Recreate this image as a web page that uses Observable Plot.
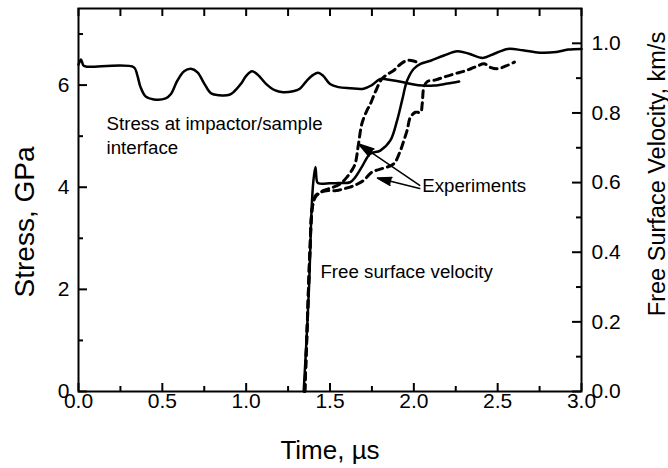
<!DOCTYPE html>
<html>
<head>
<meta charset="utf-8">
<script src="https://cdn.jsdelivr.net/npm/d3@7"></script>
<script src="https://cdn.jsdelivr.net/npm/@observablehq/plot@0.6"></script>
<style>
  html, body { margin: 0; padding: 0; background: #fff; }
  #chart svg { display: block; }
</style>
</head>
<body>
<div id="chart"></div>
<script>
// ---- Stress at impactor/sample interface (time µs, stress GPa)
const stressTime = [0, 0.015, 0.03, 0.05, 0.33, 0.35, 0.37, 0.40, 0.45, 0.52, 0.55, 0.59, 0.63, 0.67, 0.71, 0.75, 0.79, 0.84, 0.90, 0.93, 0.97, 1.0, 1.035, 1.07, 1.12, 1.17, 1.22, 1.28, 1.32, 1.36, 1.40, 1.43, 1.46, 1.50, 1.55, 1.62, 1.70, 1.75, 1.80, 1.86, 1.93, 2.0, 2.05, 2.12, 2.20, 2.27];
const stressValues = [6.4, 6.5, 6.38, 6.36, 6.35, 6.2, 5.96, 5.78, 5.72, 5.74, 5.82, 6.09, 6.27, 6.32, 6.25, 6.03, 5.84, 5.80, 5.81, 5.88, 6.03, 6.18, 6.27, 6.2, 6.02, 5.9, 5.86, 5.88, 5.93, 6.08, 6.2, 6.24, 6.18, 6.02, 5.96, 5.94, 5.93, 6.0, 6.12, 6.1, 6.06, 6.01, 5.99, 5.99, 6.03, 6.07];

// ---- Free surface velocity, simulation (time µs, velocity km/s)
const simTime = [1.343, 1.36, 1.375, 1.39, 1.40, 1.413, 1.425, 1.44, 1.50, 1.55, 1.62, 1.65, 1.69, 1.74, 1.80, 1.86, 1.90, 1.93, 1.96, 2.0, 2.04, 2.10, 2.18, 2.26, 2.33, 2.41, 2.48, 2.56, 2.65, 2.75, 2.85, 2.92, 3.0];
const simVelocity = [0, 0.15, 0.3, 0.52, 0.6, 0.645, 0.60, 0.597, 0.598, 0.599, 0.601, 0.615, 0.645, 0.683, 0.692, 0.721, 0.778, 0.836, 0.893, 0.927, 0.941, 0.95, 0.965, 0.977, 0.97, 0.958, 0.97, 0.984, 0.98, 0.973, 0.975, 0.982, 0.984];

// ---- Experiment 1 (earlier rise)
const exp1Time = [1.35, 1.365, 1.38, 1.395, 1.413, 1.46, 1.51, 1.56, 1.60, 1.63, 1.65, 1.67, 1.69, 1.72, 1.74, 1.77, 1.81, 1.85, 1.88, 1.92, 1.96, 1.99, 2.02];
const exp1Velocity = [0, 0.2, 0.4, 0.53, 0.558, 0.577, 0.585, 0.596, 0.615, 0.635, 0.654, 0.711, 0.769, 0.807, 0.825, 0.860, 0.898, 0.913, 0.922, 0.94, 0.951, 0.95, 0.946];

// ---- Experiment 2 (later rise)
const exp2Time = [1.35, 1.365, 1.38, 1.395, 1.41, 1.443, 1.49, 1.54, 1.58, 1.62, 1.66, 1.70, 1.75, 1.81, 1.88, 1.92, 1.94, 1.96, 1.98, 2.01, 2.04, 2.05, 2.06, 2.08, 2.13, 2.18, 2.24, 2.30, 2.34, 2.38, 2.42, 2.46, 2.50, 2.55, 2.60];
const exp2Velocity = [0, 0.2, 0.4, 0.53, 0.56, 0.572, 0.577, 0.577, 0.582, 0.587, 0.595, 0.606, 0.63, 0.64, 0.654, 0.692, 0.72, 0.75, 0.788, 0.802, 0.802, 0.826, 0.874, 0.89, 0.895, 0.903, 0.912, 0.92, 0.927, 0.935, 0.941, 0.93, 0.927, 0.935, 0.946];

// ---- Axes
const timeTicks = [0, 0.5, 1.0, 1.5, 2.0, 2.5, 3.0];
const timeMinorTicks = [0.25, 0.75, 1.25, 1.75, 2.25, 2.75];
const stressTicks = [0, 2, 4, 6];
const stressMinorTicks = [1, 3, 5, 7];
const velocityTicks = [0, 0.2, 0.4, 0.6, 0.8, 1.0];
const velocityMinorTicks = [0.1, 0.3, 0.5, 0.7, 0.9];
const stressDomain = [0, 7.5];
const velocityDomain = [0, 1.1];
const timeDomain = [0, 3];
const xTitle = "Time, \u00b5s";
const yTitle = "Stress, GPa";
const y2Title = "Free Surface Velocity, km/s";

// ---- Annotations (data coordinates: time µs, velocity km/s or stress GPa)
const stressLabel = {text: "Stress at impactor/sample\ninterface", t: 0.167, s: 5.45};
const velocityLabel = {text: "Free surface velocity", t: 1.443, v: 0.327};
const expLabel = {text: "Experiments", t: 2.05, v: 0.572};
const arrowStartT = [2.035, 2.035];
const arrowStartV = [0.592, 0.583];
const arrowEndT = [1.671, 1.783];
const arrowEndV = [0.711, 0.613];

// ---- Build
const K = stressDomain[1] / velocityDomain[1]; // velocity -> stress units
const W = 668, H = 468, mL = 78, mR = 87, mT = 8, mB = 77;
const PW = W - mL - mR, PH = H - mT - mB;

const stress = stressTime.map((t, i) => ({t, y: stressValues[i]}));
const sim = simTime.map((t, i) => ({t, y: simVelocity[i] * K}));
const exp1 = exp1Time.map((t, i) => ({t, y: exp1Velocity[i] * K}));
const exp2 = exp2Time.map((t, i) => ({t, y: exp2Velocity[i] * K}));
const arrows = arrowStartT.map((t, i) => ({x1: t, y1: arrowStartV[i] * K, x2: arrowEndT[i], y2: arrowEndV[i] * K}));
const allQuarter = [...timeTicks, ...timeMinorTicks];

const tickFont = 21;
const plot = Plot.plot({
  width: W, height: H,
  marginLeft: mL, marginRight: mR, marginTop: mT, marginBottom: mB,
  x: {domain: timeDomain, axis: null},
  y: {domain: stressDomain, axis: null},
  style: {fontFamily: "'Liberation Sans', Arial, sans-serif", fontSize: "18.7px", color: "black", background: "white"},
  marks: [
    // ticks (inward)
    Plot.tickX(timeTicks, {x: d => d, insetTop: PH - 8, strokeWidth: 2}),
    Plot.tickX(timeMinorTicks, {x: d => d, insetTop: PH - 5, strokeWidth: 2}),
    Plot.tickX(allQuarter, {x: d => d, insetBottom: PH - 8, strokeWidth: 2}),
    Plot.tickY(stressTicks, {y: d => d, insetRight: PW - 9, strokeWidth: 2}),
    Plot.tickY(stressMinorTicks, {y: d => d, insetRight: PW - 5, strokeWidth: 2}),
    Plot.tickY(velocityTicks, {y: d => d * K, insetLeft: PW - 9, strokeWidth: 2}),
    Plot.tickY(velocityMinorTicks, {y: d => d * K, insetLeft: PW - 5, strokeWidth: 2}),
    Plot.frame({strokeWidth: 2}),
    // tick labels
    Plot.text(timeTicks, {x: d => d, y: stressDomain[0], text: d => d.toFixed(1), lineAnchor: "top", dy: 2, fontSize: tickFont}),
    Plot.text(stressTicks, {x: timeDomain[0], y: d => d, text: d => String(d), textAnchor: "end", dx: -9, fontSize: tickFont}),
    Plot.text(velocityTicks, {x: timeDomain[1], y: d => d * K, text: d => d.toFixed(1), textAnchor: "start", dx: 10, fontSize: tickFont}),
    // axis titles
    Plot.text([xTitle], {frameAnchor: "bottom", textAnchor: "middle", lineAnchor: "bottom", dy: 67, fontSize: 26}),
    Plot.text([yTitle], {frameAnchor: "left", textAnchor: "middle", lineAnchor: "bottom", rotate: -90, dx: -45, dy: 22, fontSize: 28}),
    Plot.text([y2Title], {frameAnchor: "right", textAnchor: "middle", lineAnchor: "bottom", rotate: -90, dx: 83, dy: -26, fontSize: 23.5}),
    // curves
    Plot.line(stress, {x: "t", y: "y", strokeWidth: 2.5, curve: "catmull-rom"}),
    Plot.line(sim, {x: "t", y: "y", strokeWidth: 2.5, curve: "catmull-rom"}),
    Plot.line(exp1, {x: "t", y: "y", strokeWidth: 3, strokeDasharray: "7,5", curve: "catmull-rom"}),
    Plot.line(exp2, {x: "t", y: "y", strokeWidth: 3, strokeDasharray: "7,5", curve: "catmull-rom"}),
    // annotations
    Plot.text([stressLabel], {x: "t", y: "s", text: "text", textAnchor: "start", lineAnchor: "top", lineHeight: 1.28}),
    Plot.text([velocityLabel], {x: "t", y: d => d.v * K, text: "text", textAnchor: "start", lineAnchor: "bottom"}),
    Plot.text([expLabel], {x: "t", y: d => d.v * K, text: "text", textAnchor: "start", lineAnchor: "bottom"}),
    Plot.arrow(arrows, {x1: "x1", y1: "y1", x2: "x2", y2: "y2", headLength: 16, headAngle: 32, strokeWidth: 1.5, fill: "black", stroke: "black"})
  ]
});
document.getElementById("chart").appendChild(plot);
</script>
</body>
</html>
